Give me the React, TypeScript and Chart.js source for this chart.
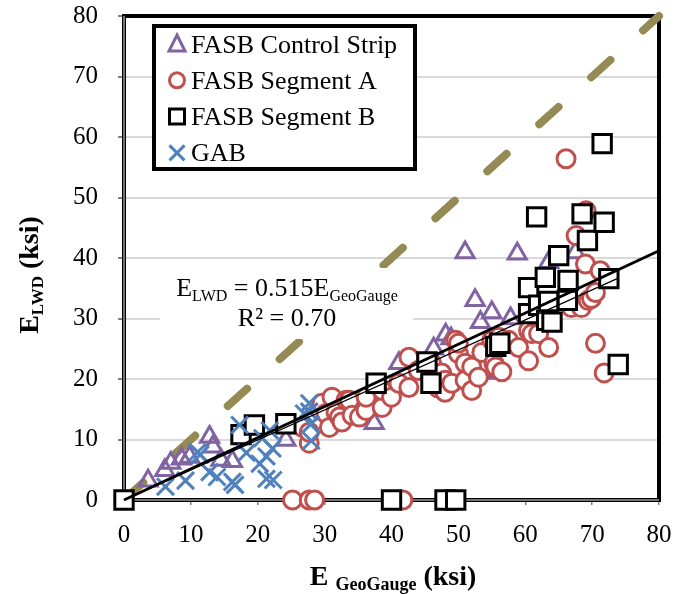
import React, { useEffect, useRef } from "react";
import { Chart, registerables } from "chart.js";

Chart.register(...registerables);

const SERIF = '"Liberation Serif", "Times New Roman", serif';

const PURPLE = "#8064A2";
const RED = "#C0504D";
const BLUE = "#4F81BD";
const OLIVE = "#948A54";

const seriesNames = ["FASB Control Strip", "FASB Segment A", "FASB Segment B", "GAB"];
const axisMin = 0;
const axisMax = 80;
const axisStep = 10;

// E_GeoGauge (ksi), E_LWD (ksi)
const controlStrip: [number, number][] = [
  [3.6, 3.2], [6.1, 4.9], [7.0, 6.1], [8.6, 6.8], [9.8, 7.1], [12.8, 10.4], [13.3, 8.8],
  [14.5, 6.6], [16.2, 6.4], [24.2, 9.9], [37.4, 12.7], [41.1, 22.6], [46.3, 25.0],
  [48.1, 27.3], [48.9, 26.7], [51.0, 40.9], [52.5, 33.0], [53.3, 29.4], [55.0, 31.0],
  [55.6, 21.0], [55.3, 21.4], [57.8, 30.0], [58.8, 40.7], [63.5, 39.3], [67.5, 40.9],
];

const segmentA: [number, number][] = [
  [25.2, 0], [27.7, 0], [28.5, 0], [41.7, 0],
  [27.7, 9.4], [26.7, 12.0], [27.7, 11.2], [29.6, 16.0], [30.2, 14.3], [30.7, 12.0],
  [31.1, 17.0], [31.7, 14.5], [32.2, 13.7], [32.6, 12.9], [33.2, 16.5], [33.7, 16.5],
  [34.1, 14.0], [35.2, 13.7], [36.2, 14.8], [36.2, 17.0], [38.6, 15.3], [38.6, 18.1],
  [40.0, 17.0], [41.1, 19.3], [42.6, 18.6], [42.6, 23.6], [44.0, 21.4], [46.0, 22.6],
  [47.0, 18.5], [47.5, 21.0], [48.0, 19.8], [48.0, 17.8], [49.0, 19.3], [49.6, 26.4],
  [50.0, 24.2], [50.0, 25.9], [51.0, 19.8], [51.0, 22.6], [52.0, 22.0], [52.0, 18.1],
  [53.0, 20.3], [53.5, 24.4], [55.0, 26.4], [55.3, 22.6], [55.6, 22.0], [56.0, 26.9],
  [56.5, 21.2], [57.5, 26.4], [59.0, 25.2], [60.5, 23.0], [60.5, 28.0], [61.0, 27.5],
  [62.0, 27.5], [63.5, 25.2], [66.1, 56.4], [66.9, 31.8], [67.6, 43.7], [68.4, 31.8],
  [69.0, 39.0], [69.1, 47.8], [69.4, 33.0], [69.9, 33.3], [70.5, 34.3], [70.5, 25.9],
  [71.2, 37.9], [71.8, 21.0],
];

const segmentB: [number, number][] = [
  [0, 0], [40, 0], [48, 0], [49.6, 0],
  [17.5, 10.8], [19.5, 12.4], [24.2, 12.6],
  [37.7, 19.3], [45.3, 22.8], [45.9, 19.3], [55.6, 25.4], [56.2, 25.9],
  [60.5, 30.8], [60.5, 35.1], [61.7, 46.8], [62.0, 32.2], [63.0, 36.8], [63.2, 29.7],
  [63.5, 32.8], [64.0, 29.4], [65.0, 40.4], [66.3, 33.0], [66.4, 36.3], [68.5, 47.3],
  [69.3, 42.9], [71.5, 58.9], [71.8, 45.9], [72.5, 36.6], [73.9, 22.4],
];

const gab: [number, number][] = [
  [6.2, 2.2], [9.2, 3.2], [11.0, 7.9], [11.4, 7.5], [12.8, 4.6], [13.9, 3.8], [16.2, 3.0],
  [16.6, 2.5], [17.3, 12.4], [18.3, 7.8], [20.3, 6.0], [20.7, 10.2], [21.3, 7.2],
  [21.3, 3.5], [21.8, 11.5], [22.2, 8.5], [22.3, 3.3], [26.9, 14.3], [27.7, 16.0],
  [27.7, 14.6], [27.9, 12.5], [28.0, 9.8],
];

// Fits and reference line
const fitSlope = 0.515;
const fitR2 = "0.70";
const segmentBFitSlope = 0.496;
const segmentBFitEnd = 74;
const equalityLine: [number, number][] = [[0, 0], [80, 80]];

const toPoints = (arr: [number, number][]) => arr.map(([x, y]) => ({ x, y }));

type Run = { text: string; size: number; dy: number; bold?: boolean };

function runFont(r: Run) {
  return `${r.bold ? "bold " : ""}${r.size}px ${SERIF}`;
}

function runsWidth(ctx: CanvasRenderingContext2D, runs: Run[]) {
  let w = 0;
  for (const r of runs) {
    ctx.font = runFont(r);
    w += ctx.measureText(r.text).width;
  }
  return w;
}

function drawRuns(ctx: CanvasRenderingContext2D, runs: Run[], x: number, y: number) {
  let cx = x;
  ctx.textBaseline = "alphabetic";
  ctx.textAlign = "left";
  for (const r of runs) {
    ctx.font = runFont(r);
    ctx.fillText(r.text, cx, y + r.dy);
    cx += ctx.measureText(r.text).width;
  }
}

function drawMarker(ctx: CanvasRenderingContext2D, kind: number, x: number, y: number) {
  ctx.save();
  ctx.lineWidth = 3;
  ctx.beginPath();
  if (kind === 0) {
    ctx.strokeStyle = PURPLE;
    ctx.moveTo(x, y - 9);
    ctx.lineTo(x + 8, y + 7);
    ctx.lineTo(x - 8, y + 7);
    ctx.closePath();
    ctx.stroke();
  } else if (kind === 1) {
    ctx.strokeStyle = RED;
    ctx.arc(x, y, 7.5, 0, Math.PI * 2);
    ctx.stroke();
  } else if (kind === 2) {
    ctx.strokeStyle = "#000";
    ctx.rect(x - 7.5, y - 7.5, 15, 15);
    ctx.stroke();
  } else {
    ctx.strokeStyle = BLUE;
    ctx.moveTo(x - 7.5, y - 7.5);
    ctx.lineTo(x + 7.5, y + 7.5);
    ctx.moveTo(x + 7.5, y - 7.5);
    ctx.lineTo(x - 7.5, y + 7.5);
    ctx.stroke();
  }
  ctx.restore();
}

const decorations = {
  id: "decorations",
  beforeDatasetsDraw(chart: any) {
    const { ctx, chartArea: a, scales } = chart;
    const xs = scales.x;
    const ys = scales.y;
    ctx.save();

    // plot frame
    ctx.strokeStyle = "#000";
    ctx.lineWidth = 4;
    ctx.strokeRect(a.left, a.top, a.right - a.left, a.bottom - a.top);
    ctx.strokeStyle = "#9a9a9a";
    ctx.lineWidth = 1.5;
    ctx.beginPath();
    ctx.moveTo(a.left, a.top);
    ctx.lineTo(a.left, a.bottom);
    ctx.lineTo(a.right, a.bottom);
    ctx.stroke();

    // 1:1 line
    ctx.setLineDash([26, 44]);
    ctx.lineCap = "round";
    ctx.lineWidth = 8;
    ctx.strokeStyle = OLIVE;
    ctx.beginPath();
    ctx.moveTo(xs.getPixelForValue(equalityLine[0][0]), ys.getPixelForValue(equalityLine[0][1]));
    ctx.lineTo(xs.getPixelForValue(equalityLine[1][0]), ys.getPixelForValue(equalityLine[1][1]));
    ctx.stroke();
    ctx.setLineDash([]);

    // regression equation box
    const bx = a.left + 36;
    const by = a.top + 252;
    ctx.fillStyle = "#fff";
    ctx.fillRect(bx, by, 253, 71);
    ctx.fillStyle = "#000";
    const cx = a.left + 163;
    const line1: Run[] = [
      { text: "E", size: 26, dy: 0 },
      { text: "LWD", size: 16, dy: 5 },
      { text: ` = ${fitSlope.toFixed(3)}E`, size: 26, dy: 0 },
      { text: "GeoGauge", size: 16, dy: 5 },
    ];
    const line2: Run[] = [{ text: `R² = ${fitR2}`, size: 26, dy: 0 }];
    drawRuns(ctx, line1, cx - runsWidth(ctx, line1) / 2, a.top + 280);
    drawRuns(ctx, line2, cx - runsWidth(ctx, line2) / 2, a.top + 310);
    ctx.restore();
  },
  afterDatasetsDraw(chart: any) {
    const { ctx, chartArea: a } = chart;
    ctx.save();
    // legend
    const lx = a.left + 30;
    const ly = a.top + 10;
    ctx.fillStyle = "#fff";
    ctx.fillRect(lx, ly, 261, 143);
    ctx.strokeStyle = "#000";
    ctx.lineWidth = 4;
    ctx.strokeRect(lx, ly, 261, 143);
    seriesNames.forEach((name, i) => {
      const rowY = ly + 18 + i * 36.3;
      drawMarker(ctx, i, lx + 23, rowY);
      ctx.fillStyle = "#000";
      drawRuns(ctx, [{ text: name, size: 26, dy: 0 }], lx + 37, rowY + 8.5);
    });
    ctx.restore();
  },
  afterDraw(chart: any) {
    const { ctx, chartArea: a } = chart;
    ctx.save();
    ctx.fillStyle = "#000";
    // x-axis title
    const xt: Run[] = [
      { text: "E ", size: 28, dy: 0, bold: true },
      { text: "GeoGauge", size: 18, dy: 5, bold: true },
      { text: " (ksi)", size: 28, dy: 0, bold: true },
    ];
    const xcx = 393;
    drawRuns(ctx, xt, xcx - runsWidth(ctx, xt) / 2, a.bottom + 85);
    // y-axis title
    const yt: Run[] = [
      { text: "E", size: 28, dy: 0, bold: true },
      { text: "LWD", size: 17, dy: 5, bold: true },
      { text: " (ksi)", size: 28, dy: 0, bold: true },
    ];
    ctx.translate(a.left - 86, 275);
    ctx.rotate(-Math.PI / 2);
    drawRuns(ctx, yt, -runsWidth(ctx, yt) / 2, 0);
    ctx.restore();
  },
};

export default function App() {
  const canvasRef = useRef<HTMLCanvasElement | null>(null);

  useEffect(() => {
    const canvas = canvasRef.current;
    if (!canvas) return;
    const tickFont = { family: SERIF, size: 25 };
    const chart = new Chart(canvas, {
      type: "scatter",
      data: {
        datasets: [
          {
            label: "Segment B fit",
            data: [{ x: 0, y: 0 }, { x: segmentBFitEnd, y: segmentBFitSlope * segmentBFitEnd }],
            showLine: true,
            borderColor: "#000",
            borderWidth: 1.3,
            pointRadius: 0,
            order: 2,
            clip: false,
          } as any,
          {
            label: "Fit",
            data: [{ x: 0, y: 0 }, { x: axisMax, y: fitSlope * axisMax }],
            showLine: true,
            borderColor: "#000",
            borderWidth: 3,
            pointRadius: 0,
            order: 1,
            clip: false,
          } as any,
          {
            label: seriesNames[0],
            data: toPoints(controlStrip),
            pointStyle: "triangle",
            pointRadius: 10.5,
            borderWidth: 3,
            borderColor: PURPLE,
            backgroundColor: "rgba(255,255,255,0)",
            order: 9,
            clip: false,
          } as any,
          {
            label: seriesNames[1],
            data: toPoints(segmentA),
            pointStyle: "circle",
            pointRadius: 9,
            borderWidth: 3,
            borderColor: RED,
            backgroundColor: "#fff",
            order: 8,
            clip: false,
          } as any,
          {
            label: seriesNames[2],
            data: toPoints(segmentB),
            pointStyle: "rect",
            pointRadius: 13,
            borderWidth: 3,
            borderColor: "#000",
            backgroundColor: "#fff",
            order: 7,
            clip: false,
          } as any,
          {
            label: seriesNames[3],
            data: toPoints(gab),
            pointStyle: "crossRot",
            pointRadius: 12,
            borderWidth: 3,
            borderColor: BLUE,
            backgroundColor: BLUE,
            order: 6,
            clip: false,
          } as any,
        ],
      },
      options: {
        animation: false,
        responsive: false,
        maintainAspectRatio: false,
        devicePixelRatio: 1,
        events: [],
        layout: { padding: { top: 15, right: 14, left: 0, bottom: 0 } },
        plugins: { legend: { display: false }, tooltip: { enabled: false } },
        scales: {
          x: {
            type: "linear",
            min: axisMin,
            max: axisMax,
            ticks: { stepSize: axisStep, font: tickFont, color: "#000", padding: 15 },
            grid: { drawOnChartArea: false, tickLength: 5, tickColor: "#7f7f7f", lineWidth: 1.5 },
            border: { display: false },
            afterFit: (s: any) => {
              s.height = 94;
              s.paddingLeft = 0;
              s.paddingRight = 0;
            },
          },
          y: {
            type: "linear",
            min: axisMin,
            max: axisMax,
            ticks: { stepSize: axisStep, font: tickFont, color: "#000", padding: 20 },
            grid: { color: "#d9d9d9", lineWidth: 2, tickLength: 6, tickColor: "#7f7f7f" },
            border: { display: false },
            afterFit: (s: any) => {
              s.width = 124;
              s.paddingTop = 0;
              s.paddingBottom = 0;
            },
          },
        },
      } as any,
      plugins: [decorations],
    });
    return () => chart.destroy();
  }, []);

  return (
    <div style={{ position: "fixed", left: 0, top: 0, width: 675, height: 594, background: "#fff" }}>
      <canvas ref={canvasRef} width={675} height={594} style={{ display: "block" }} />
    </div>
  );
}
